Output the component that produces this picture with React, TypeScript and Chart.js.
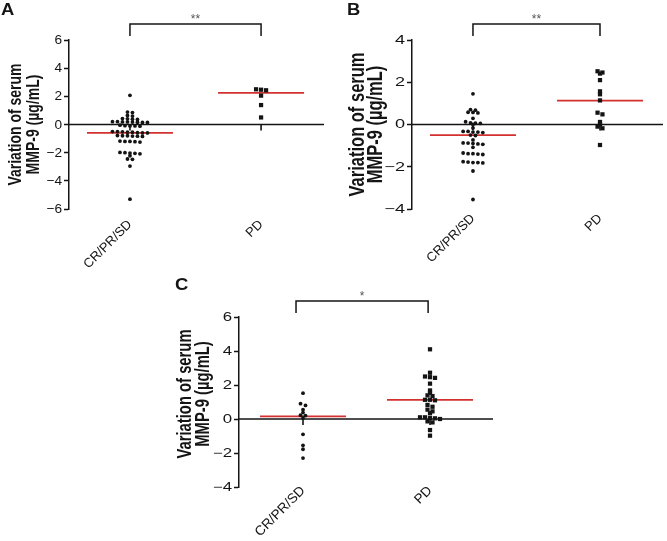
import React, { useEffect, useRef } from 'react';
import { Chart, registerables } from 'chart.js';

Chart.register(...registerables);

// ---------------- data ----------------
const categories = ['CR/PR/SD', 'PD'];
const yTitleLines = ['Variation of serum', 'MMP-9 (µg/mL)'];

// Panel A
const aTicks = [-6, -4, -2, 0, 2, 4, 6];
const aCR = [2.07, 0.88, 0.85, 0.64, 0.6, 0.42, 0.4, 0.38, 0.36, 0.2, 0.2, 0.18, 0.18, 0.17, 0.16, 0.15, 0.15,
  -0.05, -0.08, -0.1, -0.1, -0.12, -0.5, -0.5, -0.52, -0.55, -0.55, -0.58, -0.6, -0.6,
  -0.78, -0.8, -0.8, -0.82, -0.83, -0.85, -1.18, -1.2, -1.2, -1.22, -1.25,
  -1.98, -2.0, -2.03, -2.05, -2.08, -2.22, -2.45, -2.47, -2.95, -5.3];
const aPD = [2.5, 2.47, 2.43, 2.05, 1.38, 0.5];
const aMedians = [-0.6, 2.25];
const aStars = '**';

// Panel B
const bTicks = [-4, -2, 0, 2, 4];
const bCR = [1.45, 0.7, 0.68, 0.58, 0.57, 0.55, 0.29, 0.13, 0.08, 0.06, 0.05, 0.0, -0.16,
  -0.33, -0.33, -0.36, -0.36, -0.38, -0.5, -0.52, -0.73, -0.87, -0.88, -0.9, -0.92, -0.94, -1.08,
  -1.35, -1.38, -1.38, -1.4, -1.42, -1.76, -1.78, -1.8, -1.8, -1.82, -2.2, -3.55];
const bPD = [2.52, 2.46, 2.41, 2.1, 1.57, 1.43, 1.14, 0.56, 0.48, 0.12, 0.0, -0.1, -0.18, -0.97];
const bMedians = [-0.5, 1.13];
const bStars = '**';

// Panel C
const cTicks = [-4, -2, 0, 2, 4, 6];
const cCR = [1.52, 0.9, 0.8, 0.55, 0.38, 0.22, 0.2, 0.06, -0.9, -1.55, -1.78, -2.3];
const cPD = [4.1, 2.72, 2.5, 2.46, 2.42, 2.08, 1.68, 1.54, 1.39, 1.35, 1.13, 1.13, 1.1, 0.83, 0.72, 0.55,
  0.45, 0.34, 0.1, 0.1, 0.06, 0.04, 0.0, -0.14, -0.2, -0.65, -0.98];
const cMedians = [0.15, 1.12];
const cStars = '*';

// ---------------- style / layout ----------------
const FONT = "'Liberation Sans', Arial, Helvetica, sans-serif";
const INK = '#141414';
const RED = '#d2312f';

type Panel = {
  letter: string; left: number; top: number; width: number; height: number;
  axisW: number; padTop: number; padRight: number; xHeight: number;
  xMin: number; xMax: number; ticks: number[]; cr: number[]; pd: number[];
  medians: number[]; stars: string; bracket: number[];
  letterX: number; letterY: number; titleSize: number; titleShift: number;
  bin: number; tickSize: number; tickStretch: number; labelPad: number; labelSize: number;
};

const panels: Panel[] = [
  { letter: 'A', left: 0, top: 0, width: 335, height: 270, axisW: 69, padTop: 40, padRight: 11, xHeight: 61,
    xMin: 0.535, xMax: 2.48, ticks: aTicks, cr: aCR, pd: aPD, medians: aMedians, stars: aStars, bracket: [1, 2],
    letterX: 1, letterY: 15, titleSize: 14, titleShift: 0, bin: 0.12,
    tickSize: 13, tickStretch: 1.05, labelPad: 8, labelSize: 13 },
  { letter: 'B', left: 335, top: 0, width: 332, height: 270, axisW: 77, padTop: 40, padRight: 0, xHeight: 61,
    xMin: 0.52, xMax: 2.496, ticks: bTicks, cr: bCR, pd: bPD, medians: bMedians, stars: bStars, bracket: [1, 2],
    letterX: 12, letterY: 15, titleSize: 16.5, titleShift: 0, bin: 0.1,
    tickSize: 12.5, tickStretch: 1.45, labelPad: 2, labelSize: 13 },
  { letter: 'C', left: 165, top: 270, width: 335, height: 271, axisW: 74, padTop: 47, padRight: 7, xHeight: 54,
    xMin: 0.496, xMax: 2.496, ticks: cTicks, cr: cCR, pd: cPD, medians: cMedians, stars: cStars, bracket: [0.945, 1.985],
    letterX: 10, letterY: 20, titleSize: 14.8, titleShift: -8, bin: 0.12,
    tickSize: 12, tickStretch: 1.4, labelPad: -4, labelSize: 13.5 },
];

const fmtTick = (v: number) => (v < 0 ? '\u2212' + Math.abs(v) : String(v));

// beeswarm layout: group close values into rows, spread each row around the category centre
function swarm(values: number[], center: number, bin: number, step: number) {
  const sorted = [...values].sort((a, b) => b - a);
  const rows: number[][] = [];
  for (const v of sorted) {
    const r = rows[rows.length - 1];
    if (r && r[0] - v < bin) r.push(v); else rows.push([v]);
  }
  const pts: { x: number; y: number }[] = [];
  rows.forEach((r) => r.forEach((v, i) => pts.push({ x: center + (i - (r.length - 1) / 2) * step, y: v })));
  return pts;
}

function makeOverlay(p: Panel) {
  return {
    id: 'overlay' + p.letter,
    beforeDatasetsDraw(chart: any) {
      const { ctx, chartArea: ca, scales } = chart;
      const x = scales.x, y = scales.y;
      const y0 = y.getPixelForValue(0);
      ctx.save();
      ctx.strokeStyle = INK;
      ctx.lineWidth = 1.6;
      ctx.beginPath();
      ctx.moveTo(ca.left, y0);
      ctx.lineTo(ca.right, y0);
      ctx.stroke();
      categories.forEach((_, i) => {
        const px = x.getPixelForValue(i + 1);
        ctx.beginPath();
        ctx.moveTo(px, y0);
        ctx.lineTo(px, y0 + 6);
        ctx.stroke();
      });
      ctx.strokeStyle = RED;
      ctx.lineWidth = 1.8;
      p.medians.forEach((m, i) => {
        const px = x.getPixelForValue(i + 1);
        const py = y.getPixelForValue(m);
        ctx.beginPath();
        ctx.moveTo(px - 43, py);
        ctx.lineTo(px + 43, py);
        ctx.stroke();
      });
      ctx.restore();
    },
    afterDraw(chart: any) {
      const { ctx, chartArea: ca, scales } = chart;
      const x = scales.x, y = scales.y;
      ctx.save();
      // y tick labels
      ctx.fillStyle = INK;
      ctx.font = `${p.tickSize}px ${FONT}`;
      ctx.textAlign = 'right';
      ctx.textBaseline = 'middle';
      p.ticks.forEach((v) => {
        ctx.save();
        ctx.translate(ca.left - 7, y.getPixelForValue(v) + 0.5);
        ctx.scale(p.tickStretch, 1);
        ctx.fillText(fmtTick(v), 0, 0);
        ctx.restore();
      });
      // significance bracket
      const x1 = x.getPixelForValue(p.bracket[0]);
      const x2 = x.getPixelForValue(p.bracket[1]);
      const by = ca.top - 16;
      ctx.strokeStyle = INK;
      ctx.lineWidth = 1.5;
      ctx.beginPath();
      ctx.moveTo(x1, ca.top - 4);
      ctx.lineTo(x1, by);
      ctx.lineTo(x2, by);
      ctx.lineTo(x2, ca.top - 4);
      ctx.stroke();
      ctx.fillStyle = '#555';
      ctx.font = `12px ${FONT}`;
      ctx.textAlign = 'center';
      ctx.textBaseline = 'alphabetic';
      ctx.fillText(p.stars, (x1 + x2) / 2, by - 1);
      // panel letter
      ctx.fillStyle = INK;
      ctx.save();
      ctx.translate(p.letterX, p.letterY);
      ctx.scale(1.15, 1);
      ctx.font = `bold 16px ${FONT}`;
      ctx.textAlign = 'left';
      ctx.fillText(p.letter, 0, 0);
      ctx.restore();
      // y-axis title (two lines)
      ctx.font = `bold ${p.titleSize}px ${FONT}`;
      ctx.textAlign = 'center';
      const cy = (ca.top + ca.bottom) / 2 + p.titleShift;
      const offs = [48, 30];
      yTitleLines.forEach((line, i) => {
        ctx.save();
        ctx.translate(ca.left - offs[i], cy);
        ctx.rotate(-Math.PI / 2);
        ctx.scale(1, 1.35);
        ctx.fillText(line, 0, 0);
        ctx.restore();
      });
      ctx.restore();
    },
  };
}

function PanelChart({ p }: { p: Panel }) {
  const ref = useRef<HTMLCanvasElement>(null);
  useEffect(() => {
    if (!ref.current) return;
    const areaW = p.width - p.axisW - p.padRight;
    const pxPerUnit = areaW / (p.xMax - p.xMin);
    const step = 5 / pxPerUnit;
    const chart = new Chart(ref.current, {
      type: 'scatter',
      data: {
        datasets: [
          { label: categories[0], data: swarm(p.cr, 1, p.bin, step), pointStyle: 'circle', pointRadius: 1.9,
            pointBackgroundColor: INK, pointBorderWidth: 0, borderColor: INK },
          { label: categories[1], data: swarm(p.pd, 2, p.bin, step), pointStyle: 'rect', pointRadius: 3.0,
            pointBackgroundColor: INK, pointBorderWidth: 0, borderColor: INK },
        ],
      },
      options: {
        responsive: false,
        animation: false,
        devicePixelRatio: 1,
        layout: { padding: { left: 0, top: p.padTop, right: p.padRight, bottom: 0 } },
        plugins: { legend: { display: false }, tooltip: { enabled: false } },
        events: [],
        scales: {
          x: {
            type: 'linear',
            min: p.xMin,
            max: p.xMax,
            afterBuildTicks: (s: any) => { s.ticks = categories.map((_, i) => ({ value: i + 1 })); },
            afterFit: (s: any) => { s.height = p.xHeight; },
            grid: { display: false, drawTicks: false },
            border: { display: false },
            ticks: {
              autoSkip: false,
              minRotation: 45,
              maxRotation: 45,
              padding: p.labelPad,
              color: INK,
              font: { family: FONT, size: p.labelSize },
              callback: (v: any) => categories[Number(v) - 1] ?? '',
            },
          },
          y: {
            min: p.ticks[0],
            max: p.ticks[p.ticks.length - 1],
            afterBuildTicks: (s: any) => { s.ticks = p.ticks.map((v) => ({ value: v })); },
            afterFit: (s: any) => { s.width = p.axisW; },
            grid: { display: true, drawOnChartArea: false, drawTicks: true, tickLength: 5, tickWidth: 1.5, tickColor: INK },
            border: { display: true, color: INK, width: 1.5 },
            ticks: { display: false },
          },
        },
      },
      plugins: [makeOverlay(p)],
    } as any);
    return () => chart.destroy();
  }, [p]);
  return (
    <canvas
      ref={ref}
      width={p.width}
      height={p.height}
      style={{ position: 'absolute', left: p.left, top: p.top, width: p.width, height: p.height }}
    />
  );
}

export default function App() {
  return (
    <div style={{ position: 'absolute', left: 0, top: 0, width: 667, height: 541, background: '#fff', overflow: 'hidden' }}>
      {panels.map((p) => <PanelChart key={p.letter} p={p} />)}
    </div>
  );
}
